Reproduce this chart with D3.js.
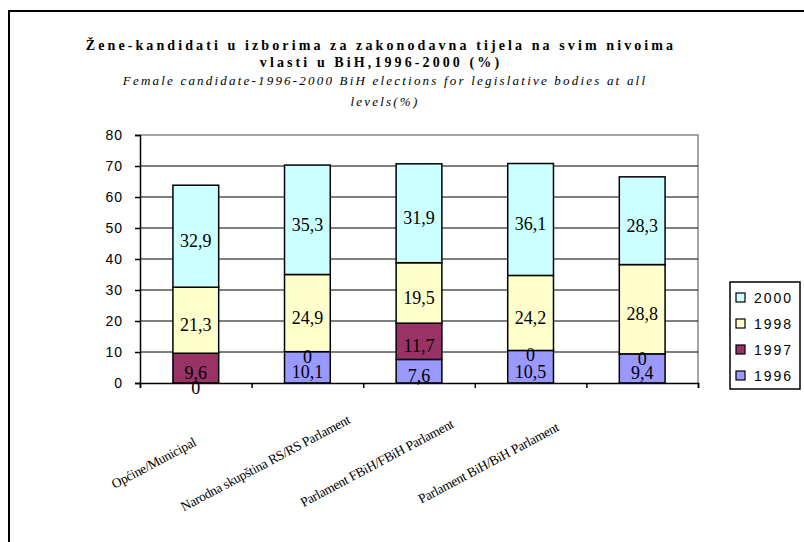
<!DOCTYPE html>
<html>
<head>
<meta charset="utf-8">
<script src="https://cdn.jsdelivr.net/npm/d3@7"></script>
<style>
  body { margin: 0; background: #fff; }
  svg { display: block; }
</style>
</head>
<body>
<div id="chart"></div>
<script>
// Chart data
const categories = ["Općine/Municipal", "Narodna skupština RS/RS Parlament", "Parlament FBiH/FBiH Parlament", "Parlament BiH/BiH Parlament", ""];
const years = ["1996", "1997", "1998", "2000"];
const v1996 = [0, 10.1, 7.6, 10.5, 9.4];
const v1997 = [9.6, 0, 11.7, 0, 0];
const v1998 = [21.3, 24.9, 19.5, 24.2, 28.8];
const v2000 = [32.9, 35.3, 31.9, 36.1, 28.3];
const yTicks = [0, 10, 20, 30, 40, 50, 60, 70, 80];
const colors = ["#9999FF", "#993366", "#FFFFCC", "#CCFFFF"];

const W = 804, H = 542;
const margin = {top: 135, left: 140, right: 106, bottom: 159};
const width = W - margin.left - margin.right;
const height = H - margin.top - margin.bottom;

const svg = d3.select("#chart").append("svg")
    .attr("width", W)
    .attr("height", H);

// Outer frame
svg.append("rect")
    .attr("x", 9).attr("y", 11)
    .attr("width", 900).attr("height", 600)
    .attr("fill", "none")
    .attr("stroke", "#000")
    .attr("stroke-width", 2);

// Title
const title = svg.append("g").attr("text-anchor", "middle")
    .style("font-family", "'Liberation Serif', 'Times New Roman', serif");
title.append("text").attr("x", 381).attr("y", 50)
    .style("font-weight", "bold").style("font-size", "14px").style("letter-spacing", "3.1px")
    .text("Žene-kandidati u izborima za zakonodavna tijela na svim nivoima");
title.append("text").attr("x", 381).attr("y", 67)
    .style("font-weight", "bold").style("font-size", "14px").style("letter-spacing", "3.1px")
    .text("vlasti u BiH,1996-2000 (%)");
title.append("text").attr("x", 385).attr("y", 85)
    .style("font-style", "italic").style("font-size", "13px").style("letter-spacing", "2.2px")
    .text("Female candidate-1996-2000 BiH elections for legislative bodies at all");
title.append("text").attr("x", 385).attr("y", 106)
    .style("font-style", "italic").style("font-size", "13px").style("letter-spacing", "2.2px")
    .text("levels(%)");

const g = svg.append("g")
    .attr("transform", `translate(${margin.left},${margin.top})`);

const x = d3.scaleBand()
    .domain(d3.range(categories.length))
    .range([0, width])
    .paddingInner(0.59)
    .paddingOuter(0.295);

const xTicks = d3.scaleLinear()
    .domain([0, categories.length])
    .range([0, width]);

const y = d3.scaleLinear()
    .domain([0, 80])
    .range([height, 0]);

// Plot area border (top and right, gray)
g.append("path")
    .attr("d", `M0,${y(80)}H${width}V${height}`)
    .attr("fill", "none")
    .attr("stroke", "#888")
    .attr("stroke-width", 1.5);

// Gridlines
g.append("g")
    .selectAll("line")
    .data(yTicks.filter(d => d > 0 && d < 80))
    .join("line")
    .attr("x1", 0).attr("x2", width)
    .attr("y1", d => y(d)).attr("y2", d => y(d))
    .attr("stroke", "#000")
    .attr("stroke-width", 1);

// Stacked data
const table = categories.map((c, i) => ({
    i: i, "1996": v1996[i], "1997": v1997[i], "1998": v1998[i], "2000": v2000[i]
}));
const series = d3.stack().keys(years)(table);

const layers = g.append("g")
    .selectAll("g")
    .data(series)
    .join("g")
    .attr("fill", (d, k) => colors[k]);

layers.selectAll("rect")
    .data(d => d.filter(p => p[1] - p[0] > 0))
    .join("rect")
    .attr("x", p => x(p.data.i))
    .attr("y", p => y(p[1]))
    .attr("width", x.bandwidth())
    .attr("height", p => y(p[0]) - y(p[1]))
    .attr("stroke", "#000")
    .attr("stroke-width", 1.5);

// Value labels
const labels = g.append("g")
    .attr("text-anchor", "middle")
    .style("font-family", "'Liberation Serif', 'Times New Roman', serif")
    .style("font-size", "18px");

series.forEach(s => {
    labels.selectAll(null)
        .data(s)
        .join("text")
        .attr("x", p => x(p.data.i) + x.bandwidth() / 2)
        .attr("y", p => y((p[0] + p[1]) / 2) + 11)
        .text(p => String(p[1] - p[0] === 0 ? 0 : +(p[1] - p[0]).toFixed(1)).replace(".", ","));
});

// Y axis
const yAxis = g.append("g")
    .call(d3.axisLeft(y).tickValues(yTicks).tickSize(5).tickPadding(12));
yAxis.select(".domain").attr("stroke", "#000").attr("stroke-width", 1.5);
yAxis.selectAll(".tick line").attr("stroke", "#000").attr("stroke-width", 1.5);
yAxis.selectAll("text")
    .style("font-family", "'Liberation Sans', Arial, sans-serif")
    .style("font-size", "14px")
    .style("letter-spacing", "1px")
    .attr("fill", "#000");

// X axis
const xAxis = g.append("g")
    .attr("transform", `translate(0,${height})`)
    .call(d3.axisBottom(xTicks).ticks(categories.length).tickSize(5).tickFormat(""));
xAxis.select(".domain").attr("stroke", "#000").attr("stroke-width", 1.5);
xAxis.selectAll(".tick line").attr("stroke", "#000").attr("stroke-width", 1.5);

// Category labels
g.append("g")
    .selectAll("text")
    .data(categories)
    .join("text")
    .attr("text-anchor", "middle")
    .attr("transform", (d, i) => `translate(${x(i) + x.bandwidth() / 2 - 40},${height + 84}) rotate(-28)`)
    .style("font-family", "'Liberation Serif', 'Times New Roman', serif")
    .style("font-size", "13.5px")
    .style("letter-spacing", "-0.3px")
    .text(d => d);

// Legend
const legend = svg.append("g").attr("transform", "translate(730,282)");
legend.append("rect")
    .attr("width", 70).attr("height", 107)
    .attr("fill", "#fff")
    .attr("stroke", "#000")
    .attr("stroke-width", 1.5);
const legendYears = years.slice().reverse();
const item = legend.selectAll("g")
    .data(legendYears)
    .join("g")
    .attr("transform", (d, k) => `translate(6,${16 + k * 26})`);
item.append("rect")
    .attr("x", 0).attr("y", -5)
    .attr("width", 9).attr("height", 9)
    .attr("fill", d => colors[years.indexOf(d)])
    .attr("stroke", "#000")
    .attr("stroke-width", 1.2);
item.append("text")
    .attr("x", 18).attr("y", 5)
    .style("font-family", "'Liberation Sans', Arial, sans-serif")
    .style("font-size", "14px")
    .style("letter-spacing", "2px")
    .text(d => d);
</script>
</body>
</html>
